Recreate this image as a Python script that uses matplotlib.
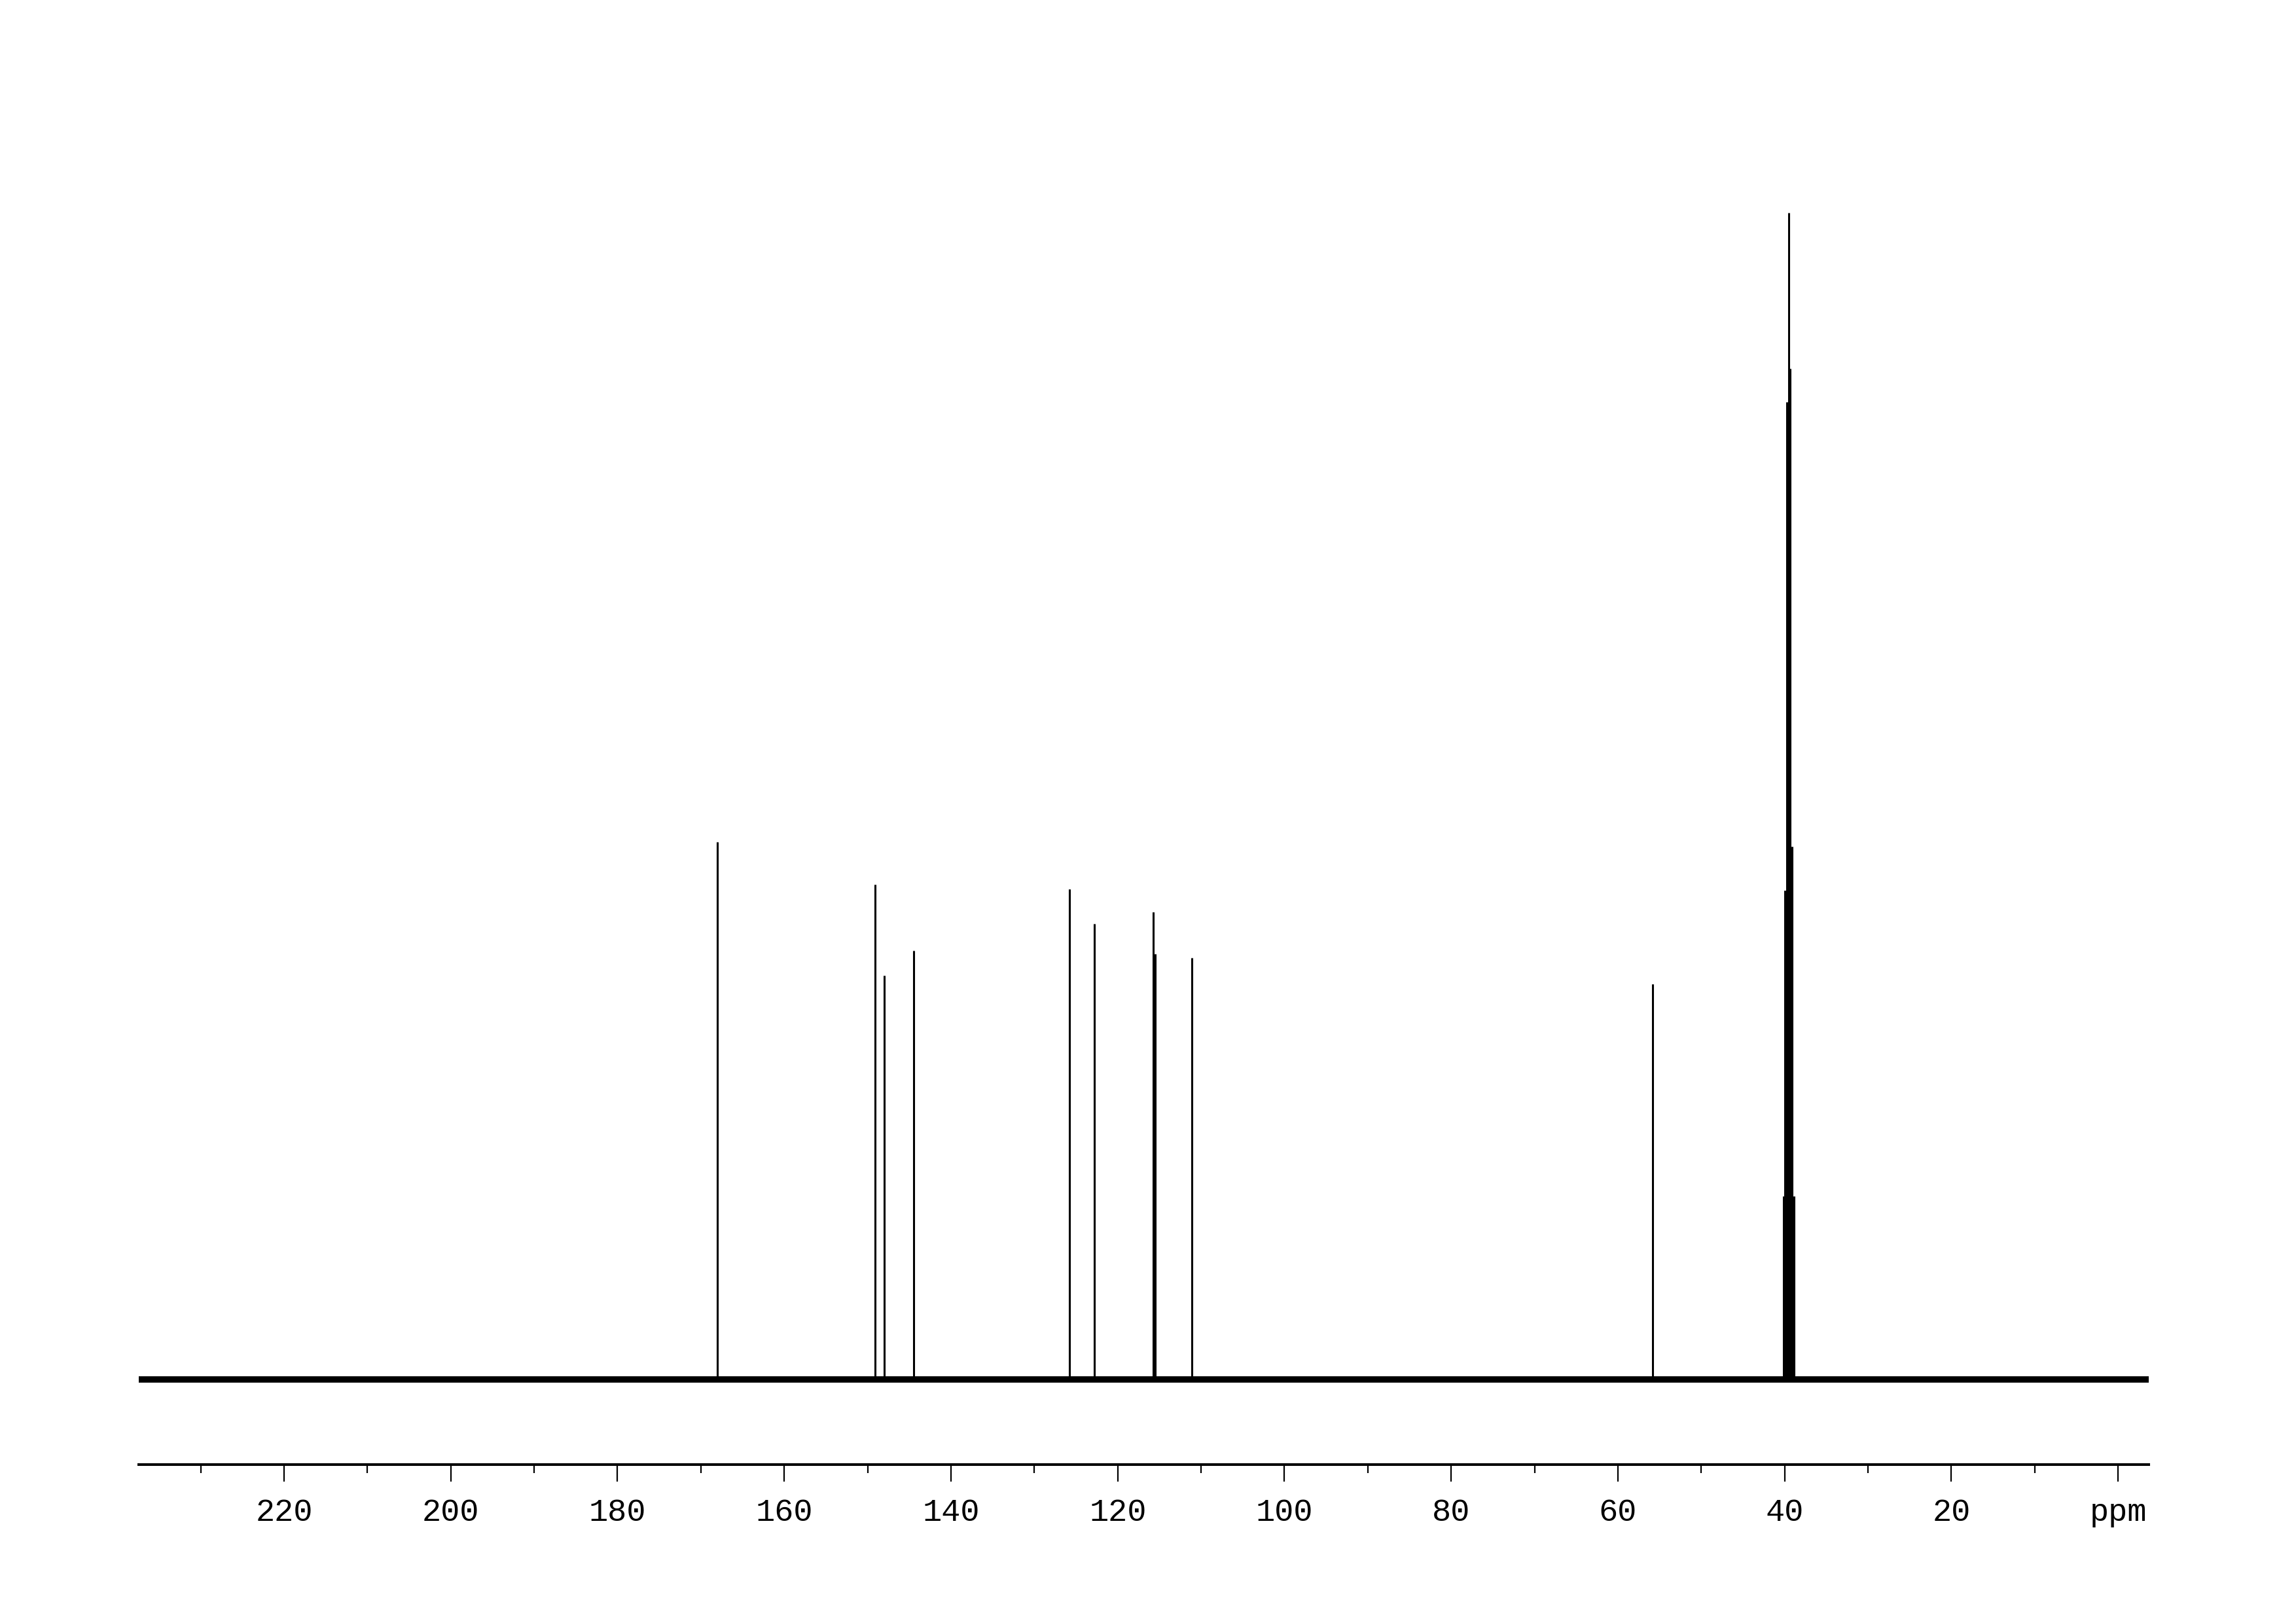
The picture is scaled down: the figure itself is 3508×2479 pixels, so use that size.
import matplotlib.pyplot as plt

# 13C NMR peaks (ppm) and peak heights above baseline
shift = [168.0, 149.1, 148.0, 144.5, 125.8, 122.8, 115.7, 115.5, 111.1, 55.8]
height = [821, 756, 617, 655, 749, 696, 714, 650, 644, 604]

# solvent septet (DMSO-d6)
dmso_shift = [40.15, 39.94, 39.73, 39.52, 39.31, 39.10, 38.89]
dmso_height = [280, 747, 1493, 1782, 1544, 814, 280]

major_ticks = [220, 200, 180, 160, 140, 120, 100, 80, 60, 40, 20, 0]
major_labels = ['220', '200', '180', '160', '140', '120', '100', '80', '60', '40', '20', 'ppm']
minor_ticks = [230, 210, 190, 170, 150, 130, 110, 90, 70, 50, 30, 10]

x_left, x_right = 237.43, -3.69

fig = plt.figure(figsize=(35.08, 24.79), dpi=100)
ax = fig.add_axes([0.0604, 0.0976, 0.8755, 0.8015])

# baseline (noise band)
ax.plot([x_left, x_right], [0, 0], color='black', lw=7, solid_capstyle='butt')

ax.vlines(shift, 0, height, color='black', lw=2.2)
ax.vlines(dmso_shift, 0, dmso_height, color='black', lw=2.2)

ax.set_xlim(x_left, x_right)
ax.set_ylim(-130, 1857)

for s in ['left', 'right', 'top']:
    ax.spines[s].set_visible(False)
ax.spines['bottom'].set_linewidth(2.9)
ax.set_yticks([])

ax.set_xticks(major_ticks)
ax.set_xticklabels(major_labels, family='Liberation Mono', fontsize=35)
ax.set_xticks(minor_ticks, minor=True)
ax.tick_params(axis='x', which='major', length=19, width=1.6, pad=18)
ax.tick_params(axis='x', which='minor', length=9, width=1.6)

fig.savefig('out.png', dpi=100)
